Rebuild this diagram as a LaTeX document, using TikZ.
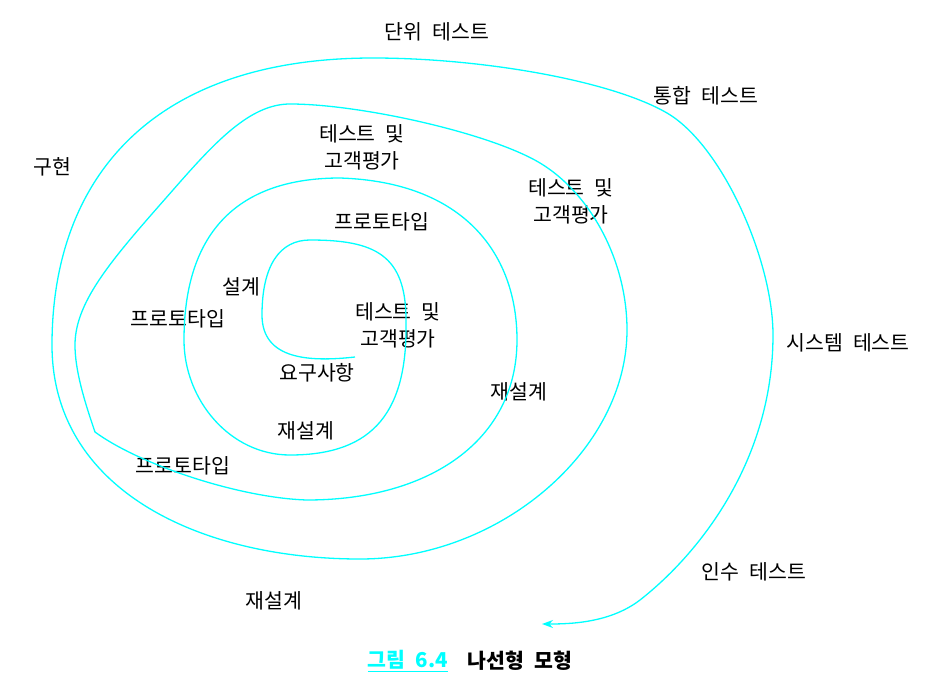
\documentclass[tikz,border=0pt]{standalone}
\usepackage{fontspec}
\newfontfamily\kr[WordSpace=2.2]{Noto Sans CJK KR}
\usetikzlibrary{arrows.meta}
\definecolor{aqua}{RGB}{0,255,255}
\begin{document}
\begin{tikzpicture}[x=1pt,y=-1pt]
          \tikzstyle{every node}=[font=\kr\fontsize{20.5}{27}\selectfont,align=center,inner sep=0pt];
          \tikzstyle{spiral}=[aqua,line width=1.3pt,line join=miter];
          \useasboundingbox (0,0) rectangle (945,693);
          % labels
          \node (unit) at (437,32) {단위 테스트};
          \node (integ) at (706,96) {통합 테스트};
          \node (impl) at (52,167) {구현};
          \node (evalA) at (362,147) {테스트 및\\고객평가};
          \node (evalB) at (571,201) {테스트 및\\고객평가};
          \node (protoA) at (382,222) {프로토타입};
          \node (design) at (241,287) {설계};
          \node (protoB) at (178,319) {프로토타입};
          \node (evalC) at (398,325) {테스트 및\\고객평가};
          \node (sys) at (848,343) {시스템 테스트};
          \node (req) at (317,373) {요구사항};
          \node (redesA) at (519,392) {재설계};
          \node (redesB) at (306,431) {재설계};
          \node (protoC) at (183,466) {프로토타입};
          \node (accept) at (754,572) {인수 테스트};
          \node (redesC) at (274,601) {재설계};
          \node (cap1) at (408,661) {\bfseries\textcolor{aqua}{\underline{그림 6.4}}};
          \node (cap2) at (520,661) {\bfseries 나선형 모형};
          % spiral, from the inside out
          \draw[spiral,-{Stealth[length=11pt,width=8pt]}] (355,357)
          .. controls (310,362) and (262,360) .. (262,315)
          .. controls (262,265) and (280,240) .. (310,240)
          .. controls (375,240) and (406,255) .. (406,320)
          .. controls (408,410) and (375,455) .. (290,455)
          .. controls (230,455) and (184,400) .. (184,340)
          .. controls (184,230) and (240,178) .. (340,178)
          .. controls (465,182) and (517,255) .. (517,340)
          .. controls (517,440) and (430,500) .. (307,500)
          .. controls (240,498) and (140,465) .. (95,432)
          .. controls (84,400) and (75,370) .. (75,345)
          .. controls (75,300) and (115,256) .. (173,190)
          .. controls (215,142) and (250,104) .. (290,104)
          .. controls (360,104) and (490,133) .. (540,163)
          .. controls (590,193) and (627,260) .. (627,330)
          .. controls (627,450) and (500,559) .. (360,559)
          .. controls (200,559) and (52,490) .. (52,345)
          .. controls (52,180) and (150,58) .. (373,58)
          .. controls (480,58) and (610,80) .. (667,113)
          .. controls (722,145) and (773,260) .. (773,335)
          .. controls (773,460) and (700,553) .. (640,600)
          .. controls (610,623) and (570,624) .. (542,624);
      \end{tikzpicture}
\end{document}
